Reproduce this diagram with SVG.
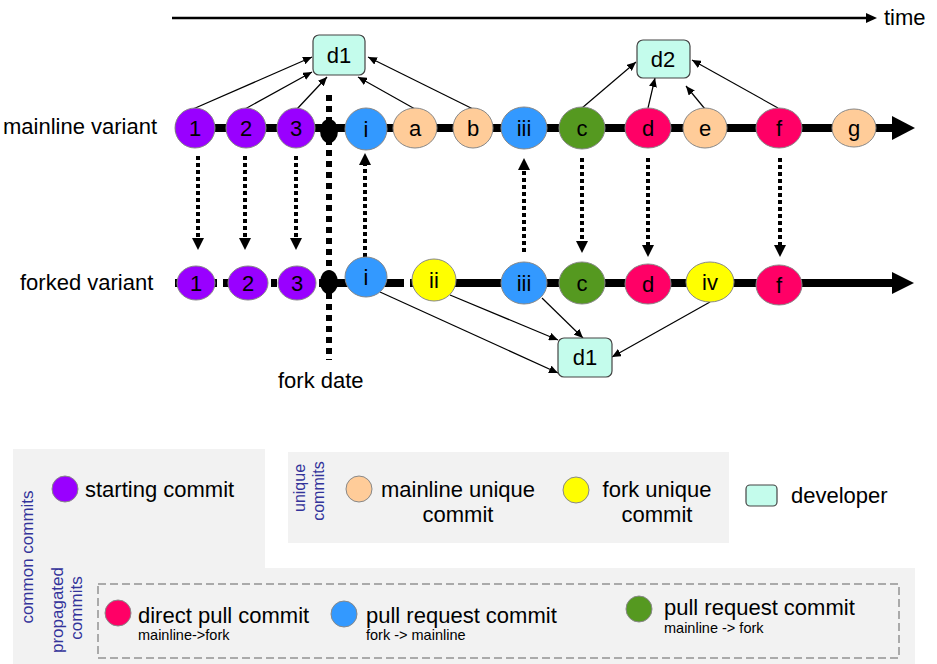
<svg xmlns="http://www.w3.org/2000/svg" width="937" height="664" viewBox="0 0 937 664">
<style>
text{font-family:"Liberation Sans",Arial,sans-serif;fill:#000}
.lbl{font-size:22px}
.nl{font-size:22px;text-anchor:middle}
.node{stroke:#888;stroke-width:1}
.pur{fill:#9900ff}.blu{fill:#3399ff}.pea{fill:#ffcc99}.grn{fill:#559920}.pnk{fill:#ff0066}.yel{fill:#ffff00}
.dev{fill:#c4fcec;stroke:#444;stroke-width:1.2}
.thin{stroke:#000;stroke-width:1.2;fill:none;marker-end:url(#ah)}
.dot{stroke:#000;stroke-width:4;stroke-dasharray:4 3;fill:none}
.cat{font-size:17px;fill:#33339a;text-anchor:middle}
.small{font-size:14.5px}
</style>
<defs>
<marker id="ah" markerUnits="userSpaceOnUse" markerWidth="9" markerHeight="8" refX="9" refY="4" orient="auto"><path d="M0,0 L9,4 L0,8 z" fill="#000"/></marker>
</defs>
<rect width="937" height="664" fill="#fff"/>

<g id="timeaxis">
<line x1="172" y1="18" x2="868" y2="18" stroke="#000" stroke-width="2.5"/>
<polygon points="866,13 877,18 866,23" fill="#000"/>
<text x="884" y="25" class="lbl">time</text>
</g>

<g id="labels">
<text x="3" y="134" class="lbl">mainline variant</text>
<text x="20" y="290" class="lbl">forked variant</text>
<text x="278" y="388" class="lbl">fork date</text>
</g>

<g id="connectors">
<line x1="175" y1="128" x2="894" y2="128" stroke="#000" stroke-width="8"/>
<polygon points="892,116 915,128 892,140" fill="#000"/>
<line x1="175" y1="283" x2="329" y2="283" stroke="#000" stroke-width="8" stroke-dasharray="6 6"/>
<line x1="329" y1="283" x2="404" y2="283" stroke="#000" stroke-width="8"/>
<line x1="410" y1="283" x2="894" y2="283" stroke="#000" stroke-width="8"/>
<polygon points="892,272 914,283 892,294" fill="#000"/>
<line x1="329" y1="95" x2="329" y2="360" stroke="#000" stroke-width="6" stroke-dasharray="6 5"/>
<line class="dot" x1="198" y1="156" x2="198" y2="239"/><polygon points="192,238 204,238 198,250"/>
<line class="dot" x1="245" y1="156" x2="245" y2="239"/><polygon points="239,238 251,238 245,250"/>
<line class="dot" x1="296" y1="156" x2="296" y2="239"/><polygon points="290,238 302,238 296,250"/>
<line class="dot" x1="365" y1="257" x2="365" y2="164"/><polygon points="359,165 371,165 365,153"/>
<line class="dot" x1="524" y1="252" x2="524" y2="168"/><polygon points="518,170 530,170 524,158"/>
<line class="dot" x1="582" y1="158" x2="582" y2="242"/><polygon points="576,241 588,241 582,253"/>
<line class="dot" x1="648" y1="158" x2="648" y2="246"/><polygon points="642,245 654,245 648,257"/>
<line class="dot" x1="780" y1="158" x2="780" y2="246"/><polygon points="774,245 786,245 780,257"/>
<line class="thin" x1="193" y1="109" x2="312" y2="57"/>
<line class="thin" x1="245" y1="109" x2="312" y2="72"/>
<line class="thin" x1="297" y1="109" x2="327" y2="77"/>
<line class="thin" x1="415" y1="109" x2="358" y2="77"/>
<line class="thin" x1="473" y1="109" x2="368" y2="57"/>
<line class="thin" x1="582" y1="108" x2="636" y2="62"/>
<line class="thin" x1="648" y1="108" x2="655" y2="78"/>
<line class="thin" x1="705" y1="109" x2="686" y2="86"/>
<line class="thin" x1="778" y1="108" x2="692" y2="60"/>
<line class="thin" x1="380" y1="292" x2="558" y2="373"/>
<line class="thin" x1="450" y1="295" x2="558" y2="340"/>
<line class="thin" x1="542" y1="298" x2="583" y2="338"/>
<line class="thin" x1="710" y1="302" x2="612" y2="357"/>
</g>

<g id="m1"><ellipse class="node pur" cx="195" cy="128" rx="20" ry="20"/><text class="nl" x="195" y="136">1</text></g>
<g id="m2"><ellipse class="node pur" cx="246" cy="128" rx="20" ry="20"/><text class="nl" x="246" y="136">2</text></g>
<g id="m3"><ellipse class="node pur" cx="296" cy="128" rx="19" ry="20"/><text class="nl" x="296" y="136">3</text></g>
<g id="mfork"><ellipse cx="329" cy="131" rx="9" ry="12" fill="#000"/></g>
<g id="mi"><ellipse class="node blu" cx="366" cy="129" rx="21" ry="21"/><text class="nl" x="366" y="137">i</text></g>
<g id="ma"><ellipse class="node pea" cx="415" cy="128" rx="22" ry="20"/><text class="nl" x="415" y="136">a</text></g>
<g id="mb"><ellipse class="node pea" cx="473" cy="128" rx="20" ry="20"/><text class="nl" x="473" y="136">b</text></g>
<g id="miii"><ellipse class="node blu" cx="524" cy="128" rx="23" ry="21"/><text class="nl" x="524" y="136">iii</text></g>
<g id="mc"><ellipse class="node grn" cx="582" cy="128" rx="23" ry="21"/><text class="nl" x="582" y="136">c</text></g>
<g id="md"><ellipse class="node pnk" cx="648" cy="128" rx="23" ry="20"/><text class="nl" x="648" y="136">d</text></g>
<g id="me"><ellipse class="node pea" cx="705" cy="128" rx="22" ry="20"/><text class="nl" x="705" y="136">e</text></g>
<g id="mf"><ellipse class="node pnk" cx="779" cy="128" rx="23" ry="20"/><text class="nl" x="779" y="136">f</text></g>
<g id="mg"><ellipse class="node pea" cx="854" cy="128" rx="22" ry="19"/><text class="nl" x="854" y="136">g</text></g>

<g id="dev1top"><rect class="dev" x="313" y="35" width="52" height="40" rx="6"/><text class="nl" x="339" y="63">d1</text></g>
<g id="dev2"><rect class="dev" x="637" y="40" width="53" height="38" rx="6"/><text class="nl" x="663" y="67">d2</text></g>

<g id="f1"><ellipse class="node pur" cx="196" cy="283" rx="19" ry="17"/><text class="nl" x="196" y="291">1</text></g>
<g id="f2"><ellipse class="node pur" cx="248" cy="283" rx="20" ry="17"/><text class="nl" x="248" y="291">2</text></g>
<g id="f3"><ellipse class="node pur" cx="297" cy="283" rx="19" ry="17"/><text class="nl" x="297" y="291">3</text></g>
<g id="ffork"><ellipse cx="329" cy="282" rx="9" ry="12" fill="#000"/></g>
<g id="fi"><ellipse class="node blu" cx="366" cy="277" rx="21" ry="20"/><text class="nl" x="366" y="285">i</text></g>
<g id="fii"><ellipse class="node yel" cx="434" cy="280" rx="22" ry="21"/><text class="nl" x="434" y="288">ii</text></g>
<g id="fiii"><ellipse class="node blu" cx="524" cy="283" rx="23" ry="21"/><text class="nl" x="524" y="291">iii</text></g>
<g id="fc"><ellipse class="node grn" cx="582" cy="283" rx="23" ry="21"/><text class="nl" x="582" y="291">c</text></g>
<g id="fd"><ellipse class="node pnk" cx="648" cy="284" rx="23" ry="20"/><text class="nl" x="648" y="292">d</text></g>
<g id="fiv"><ellipse class="node yel" cx="710" cy="282" rx="24" ry="20"/><text class="nl" x="710" y="290">iv</text></g>
<g id="ff"><ellipse class="node pnk" cx="779" cy="285" rx="23" ry="20"/><text class="nl" x="779" y="293">f</text></g>

<g id="dev1bottom"><rect class="dev" x="558" y="338" width="54" height="39" rx="6"/><text class="nl" x="585" y="365">d1</text></g>

<g id="legend">
<path d="M13,449 H265 V568 H915 V664 H13 Z" fill="#f2f2f2"/>
<rect x="288" y="452" width="441" height="91" fill="#f2f2f2"/>
<rect x="98" y="584" width="801" height="74" fill="none" stroke="#aaa" stroke-width="2" stroke-dasharray="8 4"/>
<text class="cat" transform="translate(33,557) rotate(-90)">common commits</text>
<text class="cat" transform="translate(63,610) rotate(-90)">propagated</text>
<text class="cat" transform="translate(82,608) rotate(-90)">commits</text>
<text class="cat" style="font-size:16px" transform="translate(305,488) rotate(-90)">unique</text>
<text class="cat" style="font-size:16px" transform="translate(324,491) rotate(-90)">commits</text>
<g id="lg-start"><circle class="node pur" cx="65" cy="489" r="13"/><text class="lbl" x="85" y="497">starting commit</text></g>
<g id="lg-mu"><circle class="node pea" cx="359" cy="489" r="13"/><text class="lbl" x="458" y="497" text-anchor="middle">mainline unique</text><text class="lbl" x="458" y="522" text-anchor="middle">commit</text></g>
<g id="lg-fu"><circle class="node yel" cx="576" cy="490" r="13"/><text class="lbl" x="657" y="497" text-anchor="middle">fork unique</text><text class="lbl" x="657" y="522" text-anchor="middle">commit</text></g>
<g id="lg-dev"><rect class="dev" x="746" y="485" width="31" height="21" rx="4"/><text class="lbl" x="791" y="503">developer</text></g>
<g id="lg-direct"><circle class="node pnk" cx="118" cy="613" r="13"/><text class="lbl" x="138" y="623">direct pull commit</text><text class="small" x="138" y="640">mainline-&gt;fork</text></g>
<g id="lg-prfm"><circle class="node blu" cx="344" cy="614" r="13"/><text class="lbl" x="366" y="623">pull request commit</text><text class="small" x="366" y="640">fork -&gt; mainline</text></g>
<g id="lg-prmf"><circle class="node grn" cx="639" cy="609" r="13"/><text class="lbl" x="664" y="615">pull request commit</text><text class="small" x="664" y="633">mainline -&gt; fork</text></g>
</g>
</svg>
